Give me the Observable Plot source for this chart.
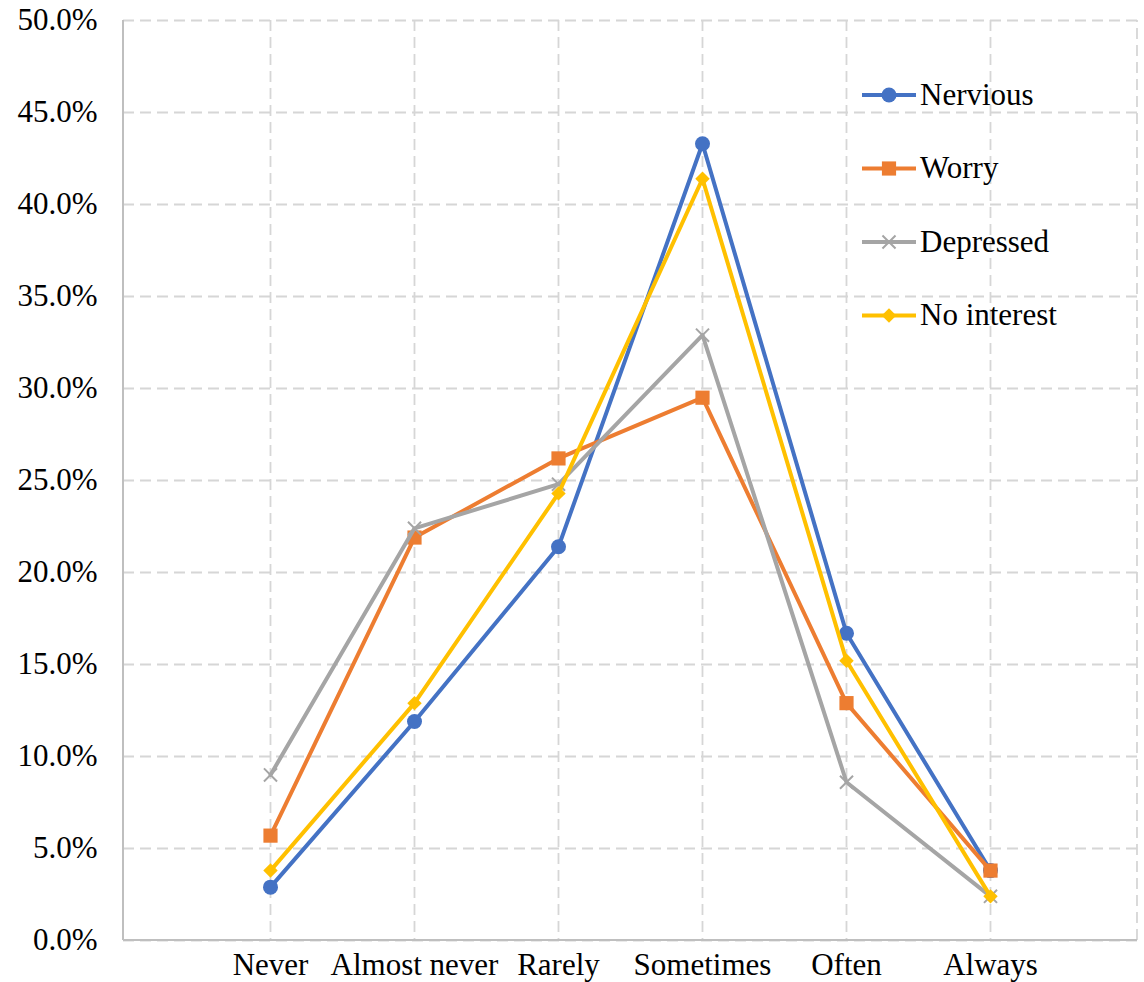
<!DOCTYPE html>
<html><head><meta charset="utf-8">
<script src="https://cdn.jsdelivr.net/npm/d3@7"></script>
<script src="https://cdn.jsdelivr.net/npm/@observablehq/plot@0.6"></script>
<style>
body{margin:0;background:#fff;}
#wrap{position:relative;width:1144px;height:982px;}
#legend{position:absolute;left:0;top:0;}
</style></head><body><div id="wrap"></div>
<script>
const categories = ["Never", "Almost never", "Rarely", "Sometimes", "Often", "Always"];
const seriesNames = ["Nervious", "Worry", "Depressed", "No interest"];
const nervious = [2.9, 11.9, 21.4, 43.3, 16.7, 3.8];
const worry = [5.7, 21.9, 26.2, 29.5, 12.9, 3.8];
const depressed = [9.0, 22.4, 24.8, 32.9, 8.6, 2.4];
const noInterest = [3.8, 12.9, 24.3, 41.4, 15.2, 2.4];
const yTicks = [0, 5, 10, 15, 20, 25, 30, 35, 40, 45, 50];
const colors = ["#4472C4", "#ED7D31", "#A5A5A5", "#FFC000"];
const symbols = ["circle", "square", "times", "diamond2"];
const symbolR = [7.5, 8, 6, 6.5];

const allSeries = [nervious, worry, depressed, noInterest];
const table = [];
allSeries.forEach((vals, si) => vals.forEach((v, ci) => table.push({series: seriesNames[si], category: categories[ci], value: v})));

const W = 1144, H = 982;
const margin = {top: 20, right: 7, bottom: 42, left: 123};
const font = "Liberation Serif, Tinos, Times New Roman, Times, DejaVu Serif, serif";
const gridStyle = {stroke: "#d6d6d6", strokeOpacity: 1, strokeWidth: 1.8, strokeDasharray: "11,6"};

const marks = [
  Plot.gridY(yTicks, gridStyle),
  Plot.gridX(categories, gridStyle),
  Plot.axisY(yTicks, {tickSize: 0, tickPadding: 26, label: null, tickFormat: d => d.toFixed(1) + "%", fontSize: 31, fontFamily: font}),
  Plot.axisX(categories, {tickSize: 0, tickPadding: 12, label: null, fontSize: 31, fontFamily: font}),
];
seriesNames.forEach((name, i) => {
  const data = table.filter(d => d.series === name);
  marks.push(Plot.line(data, {x: "category", y: "value", stroke: colors[i], strokeWidth: 4}));
  if (symbols[i] === "times") {
    marks.push(Plot.dot(data, {x: "category", y: "value", symbol: symbols[i], stroke: colors[i], strokeWidth: 2, r: symbolR[i]}));
  } else {
    marks.push(Plot.dot(data, {x: "category", y: "value", symbol: symbols[i], fill: colors[i], stroke: "none", r: symbolR[i]}));
  }
});

const chart = Plot.plot({
  width: W, height: H,
  marginTop: margin.top, marginRight: margin.right, marginBottom: margin.bottom, marginLeft: margin.left,
  x: {type: "point", domain: categories, padding: 1},
  y: {domain: [0, 50]},
  style: {fontFamily: font, fontSize: "31px", color: "#000", background: "#fff"},
  marks
});
document.getElementById("wrap").appendChild(chart);

// frame edges: left and bottom solid axis lines, right dashed edge
const xr = chart.scale("x").range, yr = chart.scale("y").range;
const svg = d3.select(chart);
const edges = svg.insert("g", "g[aria-label='line']");
edges.append("line").attr("x1", xr[1]).attr("x2", xr[1]).attr("y1", yr[0]).attr("y2", yr[1])
  .attr("stroke", gridStyle.stroke).attr("stroke-width", gridStyle.strokeWidth).attr("stroke-dasharray", gridStyle.strokeDasharray);
edges.append("line").attr("x1", xr[0]).attr("x2", xr[0]).attr("y1", yr[0]).attr("y2", yr[1])
  .attr("stroke", "#bfbfbf").attr("stroke-width", 2);
edges.append("line").attr("x1", xr[0]).attr("x2", xr[1]).attr("y1", yr[0]).attr("y2", yr[0])
  .attr("stroke", "#bfbfbf").attr("stroke-width", 2);

// legend overlay
const leg = d3.select("#wrap").append("svg").attr("id", "legend").attr("width", W).attr("height", H);
const legX0 = 862, legX1 = 916, legY0 = 95, legStep = 73.5;
const symMap = {circle: d3.symbolCircle, square: d3.symbolSquare, times: d3.symbolTimes, diamond2: d3.symbolDiamond2};
seriesNames.forEach((name, i) => {
  const g = leg.append("g").attr("transform", `translate(0,${legY0 + i * legStep})`);
  g.append("line").attr("x1", legX0).attr("x2", legX1).attr("y1", 0).attr("y2", 0).attr("stroke", colors[i]).attr("stroke-width", 4);
  const p = g.append("path").attr("transform", `translate(${(legX0 + legX1) / 2},0)`)
    .attr("d", d3.symbol(symMap[symbols[i]], Math.PI * symbolR[i] * symbolR[i])());
  if (symbols[i] === "times") p.attr("fill", "none").attr("stroke", colors[i]).attr("stroke-width", 2);
  else p.attr("fill", colors[i]);
  g.append("text").attr("x", legX1 + 4).attr("y", 0).attr("dy", "0.32em")
    .style("font-family", font).style("font-size", "31px").attr("fill", "#000").text(name);
});
</script></body></html>
